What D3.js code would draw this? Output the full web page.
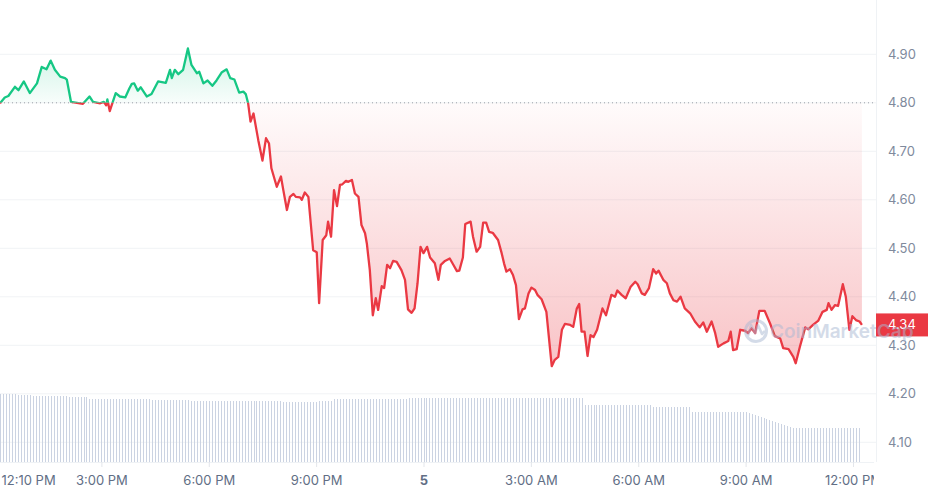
<!DOCTYPE html>
<html><head><meta charset="utf-8">
<script src="https://cdn.jsdelivr.net/npm/d3@7"></script>
<style>html,body{margin:0;padding:0;background:#fff;} svg{display:block;font-family:Inter,"Noto Sans",sans-serif;}</style>
</head><body><svg id="chart" width="928" height="495"></svg>
<script>
// ---------------- data ----------------
const startTime = "2024-06-04T12:10:00";
const baselinePrice = 4.80;
const lastPriceLabel = "4.34";
const watermarkText = "CoinMarketCap";

// minutes after start
const minutes = [0,8,14,25,31,40,50,62,70,78,85,92,101,109,112,119,129,139,150,156,168,174,178,180,184,194,201,210,217,221,225,231,236,246,254,265,278,285,288,293,299,307,315,321,330,334,341,348,356,363,372,380,386,393,401,408,412,416,
420,425,433,440,446,451,455,464,471,475,
481,486,492,496,503,506,511,517,525,531,
535,541,547,550,555,560,565,570,574,580,
584,590,595,601,606,612,615,620,625,630,
634,640,644,649,654,659,665,673,679,684,
690,695,700,705,710,716,721,729,735,739,
746,754,760,766,770,776,780,789,793,799,
805,810,815,820,826,835,841,845,849,855,
860,865,870,876,880,886,891,897,901,908,
916,925,930,936,942,947,956,961,967,971,
975,980,985,990,995,1001,1010,1016,1025,1031,
1035,1042,1049,1057,1065,1069,1076,1081,1088,1095,
1100,1104,1112,1118,1123,1129,1135,1141,1148,1157,
1165,1173,1179,1185,1193,1199,1204,1213,1221,1225,
1229,1235,1241,1249,1254,1260,1266,1273,1282,1291,
1299,1308,1313,1322,1330,1334,1341,1350,1355,1363,
1372,1379,1386,1389,1394,1400,1405,1413,1418,1424,
1429,1435,1441,1445];

const prices = [4.799,4.811,4.814,4.833,4.826,4.844,4.820,4.840,4.874,4.869,4.887,4.868,4.854,4.851,4.848,4.802,4.800,4.798,4.813,4.802,4.799,4.802,4.795,4.807,4.783,4.820,4.813,4.811,4.830,4.839,4.840,4.825,4.832,4.813,4.818,4.844,4.841,4.868,4.851,4.868,4.859,4.868,4.912,4.878,4.861,4.864,4.840,4.846,4.835,4.846,4.863,4.869,4.851,4.848,4.821,4.823,4.818,4.799,
4.761,4.778,4.723,4.681,4.727,4.716,4.665,4.627,4.648,4.620,
4.579,4.606,4.612,4.606,4.605,4.600,4.615,4.606,4.496,4.492,
4.387,4.517,4.527,4.555,4.524,4.620,4.587,4.631,4.632,4.639,
4.637,4.641,4.613,4.606,4.548,4.531,4.510,4.455,4.362,4.397,
4.373,4.422,4.418,4.466,4.459,4.474,4.472,4.455,4.435,4.374,
4.367,4.376,4.428,4.503,4.490,4.503,4.481,4.469,4.435,4.466,
4.474,4.479,4.466,4.453,4.454,4.481,4.550,4.555,4.524,4.493,
4.503,4.553,4.553,4.534,4.532,4.517,4.490,4.469,4.452,4.457,
4.445,4.424,4.354,4.374,4.376,4.407,4.419,4.414,4.404,4.395,
4.369,4.257,4.270,4.276,4.332,4.344,4.342,4.338,4.376,4.385,
4.328,4.328,4.278,4.321,4.317,4.332,4.376,4.362,4.404,4.400,
4.413,4.404,4.397,4.420,4.431,4.426,4.407,4.404,4.418,4.457,
4.448,4.454,4.435,4.428,4.407,4.393,4.390,4.400,4.376,4.366,
4.349,4.337,4.347,4.328,4.349,4.325,4.297,4.304,4.309,4.328,
4.290,4.292,4.332,4.330,4.325,4.335,4.325,4.371,4.371,4.345,
4.319,4.314,4.294,4.292,4.276,4.263,4.297,4.337,4.333,4.342,
4.351,4.369,4.373,4.387,4.373,4.383,4.381,4.426,4.400,4.332,
4.360,4.352,4.349,4.342];

// volume bars, one per 5-minute slot (relative units)
const volumeStepMinutes = 5;
const volumes = [68,68,68,68,68,68,67,67,67,67,67,
66,66,66,66,66,66,66,66,66,66,66,66,
65,65,65,65,65,65,65,
63,63,63,63,63,63,63,63,63,63,63,63,63,63,63,63,63,63,63,63,63,
62,62,62,62,62,62,62,62,62,62,62,62,62,
61,61,61,61,61,61,61,61,61,61,61,61,61,61,61,61,61,61,61,61,61,61,61,61,61,61,61,61,61,61,61,
60,60,60,60,60,60,60,60,60,60,60,60,
61,61,61,61,61,
63,63,63,63,63,63,63,63,63,63,63,63,63,63,63,63,63,63,63,63,63,63,63,63,63,
64,64,64,64,64,64,64,64,64,64,64,64,64,64,64,64,64,64,64,64,
64,64,64,64,64,64,64,64,64,64,64,64,64,64,64,64,64,64,64,64,
64,64,64,64,64,64,64,64,64,64,64,64,64,64,64,64,64,64,64,
57,57,57,57,57,57,57,57,57,57,57,57,57,57,57,57,57,57,57,57,57,57,57,
55,55,55,55,55,55,55,55,55,55,55,55,55,
50,50,50,50,50,50,50,50,50,50,50,50,50,50,50,50,50,50,50,
49,48,47,46,45,44,43,42,41,40,39,38,37,36,35,34,34,
34,34,34,34,34,34,34,34,34,34,34,34,34,34,34,34,34,34,34,34,34];

const yTicks = [4.10,4.20,4.30,4.40,4.50,4.60,4.70,4.80,4.90];
const xTickTimes = ["2024-06-04T12:10:00","2024-06-04T15:00:00","2024-06-04T18:00:00","2024-06-04T21:00:00","2024-06-05T00:00:00","2024-06-05T03:00:00","2024-06-05T06:00:00","2024-06-05T09:00:00","2024-06-05T12:00:00"];
const xTickLabels = ["12:10 PM","3:00 PM","6:00 PM","9:00 PM","5","3:00 AM","6:00 AM","9:00 AM","12:00 PM"];

// ---------------- chart ----------------
const GREEN = "#16c784", RED = "#ea3943";
const plotR = 876, plotB = 462;
const t0 = new Date(startTime);
const at = m => new Date(t0.getTime() + m * 60000);

const x = d3.scaleTime().domain([t0, at(1468.6)]).range([0, plotR]);
const y = d3.scaleLinear().domain([4.10, 4.90]).range([442.3, 54.3]);
const yv = d3.scaleLinear().domain([0, 100]).range([plotB, plotB - 100]);

const data = minutes.map((m, i) => ({ t: at(m), p: prices[i] }));
const yBase = y(baselinePrice);

const svg = d3.select("#chart");
const defs = svg.append("defs");

defs.append("clipPath").attr("id", "clipAbove").append("rect")
  .attr("x", 0).attr("y", 0).attr("width", plotR).attr("height", yBase);
defs.append("clipPath").attr("id", "clipBelow").append("rect")
  .attr("x", 0).attr("y", yBase).attr("width", plotR).attr("height", plotB - yBase);
defs.append("clipPath").attr("id", "clipAxis").append("rect")
  .attr("x", -2).attr("y", 0).attr("width", plotR).attr("height", 40);

const gG = defs.append("linearGradient").attr("id", "gradG")
  .attr("gradientUnits", "userSpaceOnUse").attr("x1", 0).attr("x2", 0).attr("y1", 45).attr("y2", yBase);
gG.append("stop").attr("offset", 0).attr("stop-color", GREEN).attr("stop-opacity", 0.22);
gG.append("stop").attr("offset", 1).attr("stop-color", GREEN).attr("stop-opacity", 0.03);

const gR = defs.append("linearGradient").attr("id", "gradR")
  .attr("gradientUnits", "userSpaceOnUse").attr("x1", 0).attr("x2", 0).attr("y1", yBase).attr("y2", 366);
gR.append("stop").attr("offset", 0).attr("stop-color", RED).attr("stop-opacity", 0.02);
gR.append("stop").attr("offset", 1).attr("stop-color", RED).attr("stop-opacity", 0.3);

// gridlines
svg.append("g").selectAll("line").data(yTicks).join("line")
  .attr("x1", 0).attr("x2", plotR)
  .attr("y1", d => y(d)).attr("y2", d => y(d))
  .attr("stroke", "#f1f3f6").attr("stroke-width", 1);

// right border
svg.append("line").attr("x1", plotR + 0.5).attr("x2", plotR + 0.5).attr("y1", 0).attr("y2", plotB)
  .attr("stroke", "#eff2f5");

// volume bars
const vol = volumes.map((v, i) => ({ t: at(i * volumeStepMinutes), v }));
svg.append("g").selectAll("rect").data(vol).join("rect")
  .attr("x", d => Math.round(x(d.t)))
  .attr("width", 1)
  .attr("y", d => yv(d.v))
  .attr("height", d => plotB - yv(d.v))
  .attr("fill", "#cbd3e2");

// areas
const area = d3.area().x(d => x(d.t)).y0(yBase).y1(d => y(d.p));
svg.append("path").datum(data).attr("d", area).attr("fill", "url(#gradG)").attr("clip-path", "url(#clipAbove)");
svg.append("path").datum(data).attr("d", area).attr("fill", "url(#gradR)").attr("clip-path", "url(#clipBelow)");

// baseline dotted
svg.append("line").attr("x1", 0).attr("x2", plotR).attr("y1", yBase).attr("y2", yBase)
  .attr("stroke", "#9aa0a8").attr("stroke-width", 1).attr("stroke-dasharray", "1 3");

// price line
const line = d3.line().x(d => x(d.t)).y(d => y(d.p));
svg.append("path").datum(data).attr("d", line).attr("fill", "none")
  .attr("stroke", GREEN).attr("stroke-width", 2.3).attr("stroke-linejoin", "round")
  .attr("clip-path", "url(#clipAbove)");
svg.append("path").datum(data).attr("d", line).attr("fill", "none")
  .attr("stroke", RED).attr("stroke-width", 2.3).attr("stroke-linejoin", "round")
  .attr("clip-path", "url(#clipBelow)");

// bottom axis
const xAxis = d3.axisBottom(x)
  .tickValues(xTickTimes.map(d => new Date(d)))
  .tickFormat((d, i) => xTickLabels[i])
  .tickSize(5).tickPadding(9);
const gx = svg.append("g").attr("transform", `translate(0,${plotB})`).call(xAxis);
gx.attr("clip-path", "url(#clipAxis)");
gx.select(".domain").attr("stroke", "#eff2f5").attr("d", `M0,0.5H${plotR}`);
gx.selectAll(".tick line").attr("stroke", "#e3e6eb");
gx.selectAll(".tick text")
  .attr("font-size", 13).attr("font-family", "Inter, 'Noto Sans', sans-serif")
  .attr("fill", "#616e85")
  .attr("font-weight", (d, i) => xTickLabels[i] === "5" ? 700 : 400);
gx.selectAll(".tick").filter((d, i) => i === 0).select("line").remove();
gx.selectAll(".tick").filter((d, i) => i === 0).select("text").attr("text-anchor", "start").attr("x", 1);

// right axis
const yAxis = d3.axisRight(y).tickValues(yTicks).tickFormat(d3.format(".2f")).tickSize(0).tickPadding(12);
const gy = svg.append("g").attr("transform", `translate(${plotR},0)`).call(yAxis);
gy.select(".domain").remove();
gy.selectAll(".tick text").attr("font-size", 13).attr("font-family", "Inter, 'Noto Sans', sans-serif")
  .attr("fill", "#808a9d");

// last price tag
const lastP = prices[prices.length - 1];
svg.append("rect").attr("x", plotR).attr("y", y(lastP) - 11.5).attr("width", 928 - plotR).attr("height", 23)
  .attr("fill", RED);
svg.append("text").attr("x", plotR + 12).attr("y", y(lastP)).attr("dy", "0.35em")
  .attr("font-size", 13).attr("fill", "#fff").text(lastPriceLabel);

// watermark
const wm = svg.append("g").attr("opacity", 0.5);
wm.append("circle").attr("cx", 756).attr("cy", 331).attr("r", 10.5)
  .attr("fill", "none").attr("stroke", "#a9b8d3").attr("stroke-width", 3);
wm.append("path").attr("d", "M748,336 L751,325 L755,333 L758,325 L762,334 L765,331")
  .attr("fill", "none").attr("stroke", "#a9b8d3").attr("stroke-width", 2.6).attr("stroke-linejoin", "round");
wm.append("text").attr("x", 770).attr("y", 338).attr("font-size", 19).attr("font-weight", 600)
  .attr("fill", "#a9b8d3").text(watermarkText);
</script>
</body></html>
